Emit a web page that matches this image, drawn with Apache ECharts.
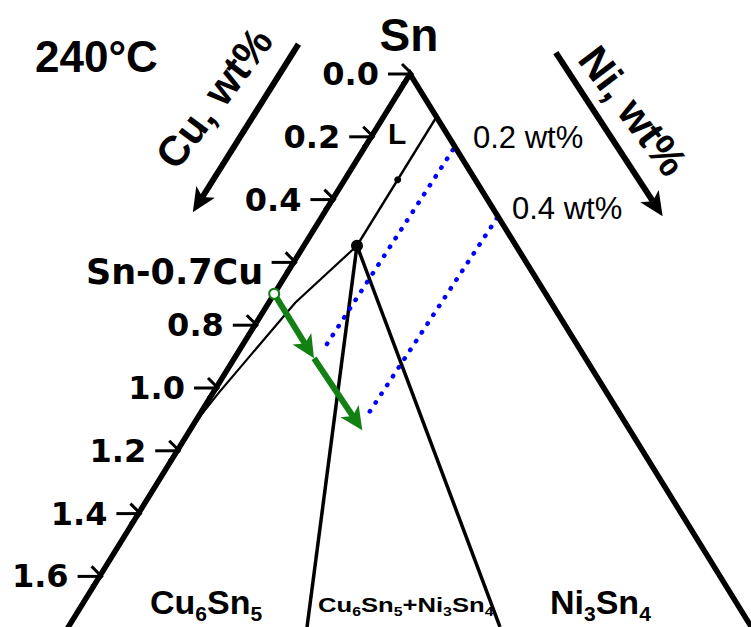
<!DOCTYPE html>
<html><head><meta charset="utf-8">
<script src="https://cdn.jsdelivr.net/npm/echarts@6/dist/echarts.min.js"></script>
<style>html,body{margin:0;padding:0;background:#fff}#c{width:751px;height:627px}</style>
</head><body><div id="c"></div>
<script>
// ---------- data: compositions, as [Cu wt%, Ni wt%] ----------
const cuTicks      = [0.0, 0.2, 0.4, 0.6, 0.8, 1.0, 1.2, 1.4, 1.6];
const cuTickLabels = ['0.0', '0.2', '0.4', '', '0.8', '1.0', '1.2', '1.4', '1.6'];
const triangleEdges = [[1.8, 0], [0, 0], [0, 1.6]];          // Sn-Cu edge, Sn apex, Sn-Ni edge
const liquidus      = [[0, 0.12], [0.41, 0.12]];
const liquidusMark  = [[0.2, 0.12]];
const eutectic      = [[0.41, 0.12]];
const boundaryL     = [[0.41, 0.12], [0.66, 0.06], [1.0, 0.013], [1.12, 0]];
const tieCu6Sn5     = [[0.41, 0.12], [1.146, 0.54]];
const tieNi3Sn4     = [[0.41, 0.12], [0.648, 0.976]];
const niLine02      = [[0.01, 0.203], [0.669, 0.189]];
const niLine04      = [[0.005, 0.398], [0.665, 0.38]];
const alloyPoint    = [[0.7, 0]];
const alloyPath     = [[0.7, 0], [0.7, 0.18], [0.69, 0.39]];
const cuAxisArrow   = [[0.24, -0.294], [0.78, -0.298]];
const niAxisArrow   = [[-0.41, 0.30], [-0.425, 0.77]];

// ---------- ternary -> cartesian layout ----------
const ORIGIN = [410, 74], U = [-194, 314], V = [221, 358];
function P(c) { return [ORIGIN[0] + c[0] * U[0] + c[1] * V[0], ORIGIN[1] + c[0] * U[1] + c[1] * V[1]]; }

function lineSeries(pts, width, color, extra) {
  return Object.assign({
    type: 'line', data: pts.map(P), symbol: 'none', silent: true, animation: false,
    lineStyle: { width: width, color: color, join: 'miter', opacity: 1 }
  }, extra || {});
}

function arrowRender(color, width, headL, headW) {
  return function (params, api) {
    const a = api.coord([api.value(0), api.value(1)]);
    const b = api.coord([api.value(2), api.value(3)]);
    const dx = b[0] - a[0], dy = b[1] - a[1], len = Math.hypot(dx, dy);
    const ux = dx / len, uy = dy / len, nx = -uy, ny = ux;
    const base = [b[0] - ux * headL, b[1] - uy * headL];
    const notch = [b[0] - ux * headL * 0.75, b[1] - uy * headL * 0.75];
    return { type: 'group', children: [
      { type: 'line', shape: { x1: a[0], y1: a[1], x2: notch[0], y2: notch[1] }, style: { stroke: color, lineWidth: width } },
      { type: 'polygon', shape: { points: [b, [base[0] + nx * headW / 2, base[1] + ny * headW / 2], notch, [base[0] - nx * headW / 2, base[1] - ny * headW / 2]] }, style: { fill: color } }
    ] };
  };
}
function segs(path) {
  const out = [];
  for (let i = 0; i < path.length - 1; i++) out.push(P(path[i]).concat(P(path[i + 1])));
  return out;
}

const GREEN = '#128012';
const chart = echarts.init(document.getElementById('c'), null, { renderer: 'svg' });

function phaseRich(big, small, pad) {
  return {
    m: { fontFamily: 'Liberation Sans', fontWeight: 'bold', fontSize: big, lineHeight: big, fill: '#000' },
    s: { fontFamily: 'Liberation Sans', fontWeight: 'bold', fontSize: small, lineHeight: small, padding: [pad, 0, 0, 0], fill: '#000' }
  };
}

chart.setOption({
  animation: false,
  backgroundColor: '#fff',
  grid: { left: 0, right: 0, top: 0, bottom: 0 },
  xAxis: { type: 'value', min: 0, max: 751, show: false },
  yAxis: { type: 'value', min: 0, max: 627, inverse: true, show: false },
  series: [
    lineSeries(triangleEdges, 5.5, '#000', { z: 5 }),
    lineSeries(liquidus, 2.5, '#000'),
    lineSeries(boundaryL, 2.2, '#000'),
    lineSeries(tieCu6Sn5, 3.5, '#000'),
    lineSeries(tieNi3Sn4, 3.5, '#000'),
    lineSeries(niLine02, 4.5, '#0000ff', { lineStyle: { width: 4.5, color: '#0000ff', type: [0.5, 10], cap: 'round', opacity: 1 } }),
    lineSeries(niLine04, 4.5, '#0000ff', { lineStyle: { width: 4.5, color: '#0000ff', type: [0.5, 10], cap: 'round', opacity: 1 } }),
    { type: 'scatter', data: eutectic.map(P), symbol: 'circle', symbolSize: 12, itemStyle: { color: '#000', opacity: 1 }, silent: true, z: 6 },
    { type: 'scatter', data: liquidusMark.map(P), symbol: 'circle', symbolSize: 7, itemStyle: { color: '#000', opacity: 1 }, silent: true },
    { type: 'custom', renderItem: arrowRender(GREEN, 6, 23, 22), data: segs(alloyPath), encode: { x: [0, 2], y: [1, 3] }, silent: true, z: 7 },
    { type: 'scatter', data: alloyPoint.map(P), symbol: 'circle', symbolSize: 10, silent: true, z: 8,
      itemStyle: { color: '#fff', borderColor: GREEN, borderWidth: 2, opacity: 1 },
      label: { show: true, position: 'left', distance: 5, offset: [0, -22], formatter: 'Sn-0.7Cu', opacity: 1,
        fontFamily: 'DejaVu Sans', fontWeight: 'bold', fontSize: 35, color: '#000' } },
    { type: 'custom', renderItem: arrowRender('#000', 6, 24, 22), data: segs(cuAxisArrow).concat(segs(niAxisArrow)), encode: { x: [0, 2], y: [1, 3] }, silent: true },
    { type: 'custom', silent: true, z: 6,
      data: cuTicks.map(function (v, i) { return P([v, 0]).concat([i]); }),
      encode: { x: 0, y: 1 },
      renderItem: function (params, api) {
        const p = api.coord([api.value(0), api.value(1)]);
        const x = p[0] + 2, y = p[1];
        const lbl = cuTickLabels[api.value(2)];
        return { type: 'group', children: [
          { type: 'polyline', shape: { points: [[x - 24, y], [x, y]] }, style: { stroke: '#000', lineWidth: 3, fill: null } },
          { type: 'polyline', shape: { points: [[x - 10, y - 10], [x, y], [x - 10, y + 10]] }, style: { stroke: '#000', lineWidth: 3, fill: null } },
          { type: 'text', style: { text: lbl, x: x - 33, y: y, align: 'right', verticalAlign: 'middle', font: 'bold 32px "DejaVu Sans"', fill: '#000' } }
        ] };
      } }
  ],
  graphic: [
    { type: 'text', x: 409, y: 35, style: { text: 'Sn', font: 'bold 46px "Liberation Sans"', fill: '#000', align: 'center', verticalAlign: 'middle' } },
    { type: 'text', x: 35, y: 56, style: { text: '240°C', font: 'bold 44px "Liberation Sans"', fill: '#000', align: 'left', verticalAlign: 'middle' } },
    { type: 'text', x: 214, y: 98, rotation: 53 * Math.PI / 180, style: { text: 'Cu, wt%', font: 'bold 42px "Liberation Sans"', fill: '#000', align: 'center', verticalAlign: 'middle' } },
    { type: 'text', x: 633, y: 111, rotation: -53 * Math.PI / 180, style: { text: 'Ni, wt%', font: 'bold 42px "Liberation Sans"', fill: '#000', align: 'center', verticalAlign: 'middle' } },
    { type: 'text', x: 473, y: 137, style: { text: '0.2 wt%', font: '31px "Liberation Sans"', fill: '#000', align: 'left', verticalAlign: 'middle' } },
    { type: 'text', x: 512, y: 208, style: { text: '0.4 wt%', font: '31px "Liberation Sans"', fill: '#000', align: 'left', verticalAlign: 'middle' } },
    { type: 'text', x: 388, y: 133, style: { text: 'L', font: 'bold 30px "Liberation Sans"', fill: '#000', align: 'left', verticalAlign: 'middle' } },
    { type: 'text', x: 150, y: 602, style: { text: '{m|Cu}{s|6}{m|Sn}{s|5}', align: 'left', verticalAlign: 'middle', rich: phaseRich(34, 21, 23) } },
    { type: 'text', x: 550, y: 602, style: { text: '{m|Ni}{s|3}{m|Sn}{s|4}', align: 'left', verticalAlign: 'middle', rich: phaseRich(34, 21, 23) } },
    { type: 'text', x: 318, y: 605, scaleX: 1.22, style: { text: '{m|Cu}{s|6}{m|Sn}{s|5}{m|+Ni}{s|3}{m|Sn}{s|4}', align: 'left', verticalAlign: 'middle', rich: phaseRich(21, 13, 13) } }
  ]
});
</script></body></html>
